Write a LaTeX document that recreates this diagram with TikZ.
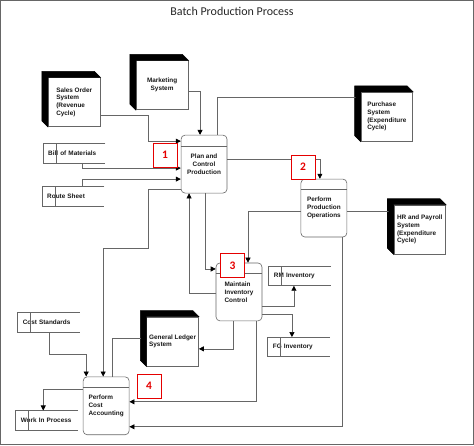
\documentclass[tikz,border=0pt]{standalone}
\usepackage{fontspec}
\setmainfont{Liberation Sans}
\newfontfamily\titlefont{Carlito}
\usetikzlibrary{arrows.meta}

\begin{document}
\begin{tikzpicture}[x=1pt,y=-1pt,
  >={Triangle[length=5pt,width=5pt,color=black]},
  every path/.style={draw=black!60, line width=0.6pt},
  txt/.style={font=\bfseries\fontsize{6.4}{7.8}\selectfont, text=black!90},
  entity/.style={txt, draw=black!60, fill=white, minimum width=52pt, minimum height=49pt, inner sep=0pt, align=left},
  process/.style={txt, draw=black!60, rounded corners=4pt, minimum width=46pt, minimum height=58pt, inner sep=0pt, align=left},
  store/.style={txt, minimum width=62pt, minimum height=19pt, inner xsep=5pt, inner ysep=0pt, text width=52pt, align=left},
  numbox/.style={draw=red!90!black, fill=white, minimum size=24pt, inner sep=0pt, text=red!90!black, font=\titlefont\bfseries\fontsize{11.5}{12}\selectfont}]
\useasboundingbox (0,0) rectangle (474,445);

% title
  \node[font=\titlefont\fontsize{12}{14}\selectfont, text=black!85] (title) at (232,11) {Batch Production Process};

% define the external entities
  \node[entity] (sales) at (74,102)    {Sales Order\\System\\(Revenue\\Cycle)};
  \node[entity, align=center] (mkt) at (162,85) {Marketing\\System};
  \node[entity] (purch) at (387,116.5) {Purchase\\System\\(Expenditure\\Cycle)};
  \node[entity] (hr)    at (420,229.5) {HR and Payroll\\System\\(Expenditure\\Cycle)};
  \node[entity] (gl)    at (172.5,341.5) {General Ledger\\System};
  \foreach \n in {sales,mkt,purch,hr,gl}
    \fill[black] (\n.south west) -- ([shift={(-6pt,6pt)}]\n.south west)
      -- ([shift={(-6pt,6pt)}]\n.north west) -- ([shift={(-6pt,6pt)}]\n.north east)
      -- (\n.north east) -- (\n.north west) -- cycle;

% define the processes
  \node[process, align=center] (plan) at (204,164) {Plan and\\Control\\Production};
  \node[process] (prod) at (324,208) {Perform\\Production\\Operations};
  \node[process] (inv)  at (239,292) {Maintain\\Inventory\\Control};
  \node[process] (cost) at (106,406) {Perform\\Cost\\Accounting};
  \foreach \n in {plan,prod,inv,cost}
    \draw ([yshift=-11pt]\n.north west) -- ([yshift=-11pt]\n.north east);

% define the data stores
  \node[store] (bom)   at (74,153)     {Bill of Materials};
  \node[store] (route) at (73,196)     {Route Sheet};
  \node[store] (rm)    at (300,276)    {RM Inventory};
  \node[store] (fg)    at (299,347)    {FG Inventory};
  \node[store] (cstd)  at (48.5,322.5) {Cost Standards};
  \node[store] (wip)   at (46.5,420.5) {Work In Process};
  \foreach \n in {bom,route,rm,fg,cstd,wip} {
    \draw (\n.north east) -- (\n.north west) -- (\n.south west) -- (\n.south east);
    \draw ([xshift=13pt]\n.north west) -- ([xshift=13pt]\n.south west);
  }

% define the links
  \draw[->] (sales.east |- 0,115) -| (148,141) -- (plan.west |- 0,141);
  \draw[->] (mkt.east |- 0,91) -| (200,0 |- plan.north);
  \draw[->] (bom.south -| 82,0) |- (plan.west |- 0,168);
  \draw[->] (route.north -| 82,0) |- (plan.west |- 0,179);
  \draw[->] (plan.north -| 217,0) |- (purch.west |- 0,97);
  \draw[->] (plan.east |- 0,159) -| (320,0 |- prod.north);
  \draw[->] (prod.east |- 0,211) -- (hr.west |- 0,211);
  \draw[->] (prod.west |- 0,211) -| (248,0 |- inv.north);
  \draw[->] (plan.south -| 205,0) |- (inv.west |- 0,269);
  \draw[->] (inv.west |- 0,293) -| (189,0 |- plan.south);
  \draw[->] (plan.west |- 0,189) -- (148,189) -- (148,248) -| (103,0 |- cost.north);
  \draw[->] (cstd.south -| 49,0) |- (86,354) -- (86,0 |- cost.north);
  \draw[->] (cost.north -| 112,0) |- (gl.west |- 0,338);
  \draw[->] (cost.west |- 0,389) -| (43,0 |- wip.north);
  \draw[->] (inv.south -| 233,0) |- (gl.east |- 0,349);
  \draw[->] (inv.south -| 256,0) |- (cost.east |- 0,402);
  \draw[->] (prod.south -| 342,0) |- (cost.east |- 0,427);
  \draw[->] (inv.east |- 0,306) -| (294,0 |- rm.south);
  \draw[->] (inv.east |- 0,314) -| (292,0 |- fg.north);

% step numbers
  \node[numbox] (n1) at (165,155)     {1};
  \node[numbox] (n2) at (303,167)     {2};
  \node[numbox] (n3) at (232.5,265.5) {3};
  \node[numbox] (n4) at (149,386)     {4};

\end{tikzpicture}
\end{document}
